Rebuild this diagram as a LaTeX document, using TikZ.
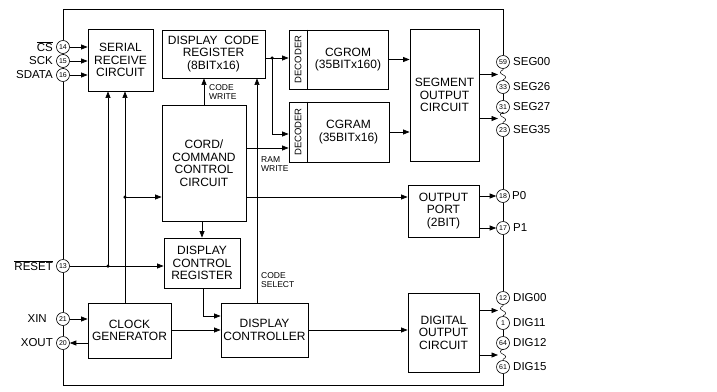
\documentclass[tikz,border=0pt]{standalone}
\usepackage{fontspec}
\setmainfont{Liberation Sans}
\usetikzlibrary{arrows.meta,calc}
\begin{document}
\begin{tikzpicture}[x=1pt,y=-1pt,
 box/.style={draw,line width=0.9pt,align=center,inner sep=0pt,font=\fontsize{12}{12.5}\selectfont},
 btext/.style={align=center,inner sep=0pt,font=\fontsize{12}{12.5}\selectfont},
 dec/.style={rotate=90,inner sep=0pt,font=\fontsize{9.5}{10}\selectfont},
 pin/.style={draw,circle,fill=white,minimum size=13pt,inner sep=0pt,line width=0.6pt,font=\fontsize{7}{7}\selectfont},
 frame/.style={line width=0.9pt},
 conn/.style={line width=0.7pt},
 arr/.style={conn,-{Triangle[length=6.5pt,width=5pt]}},
 jdot/.style={circle,fill,inner sep=0pt,minimum size=3.5pt},
 lbl/.style={font=\fontsize{11.5}{12}\selectfont,inner sep=0pt},
 sm/.style={font=\fontsize{8.5}{9}\selectfont,inner sep=0pt,align=left},
 squig/.style={line width=0.5pt},
]
\useasboundingbox (0,0) rectangle (717,391);

% ---------- blocks ----------
\node[box,minimum width=65pt,minimum height=62pt] (ser) at (120.5,60) {SERIAL\\RECEIVE\\CIRCUIT};
\node[box,minimum width=103pt,minimum height=48pt] (dcr) at (213.5,54) {DISPLAY\ \ CODE\\REGISTER\\(8BITx16)};
\node[box,minimum width=99pt,minimum height=59pt] (cgrom) at (338.5,59.5) {};
\draw[line width=0.9pt] ([xshift=19pt]cgrom.north west) -- ([xshift=19pt]cgrom.south west);
\node[dec] (decA) at ($(cgrom.west)+(9.5,0)$) {DECODER};
\node[btext] (cgromt) at ($(cgrom.center)+(9.5,0)$) {CGROM\\(35BITx160)};
\node[box,minimum width=100pt,minimum height=60pt] (cgram) at (339,132) {};
\draw[line width=0.9pt] ([xshift=19pt]cgram.north west) -- ([xshift=19pt]cgram.south west);
\node[dec] (decB) at ($(cgram.west)+(9.5,0)$) {DECODER};
\node[btext] (cgramt) at ($(cgram.center)+(9.5,0)$) {CGRAM\\(35BITx16)};
\node[box,minimum width=69pt,minimum height=132pt] (seg) at (444.5,95) {SEGMENT\\OUTPUT\\CIRCUIT};
\node[box,minimum width=84pt,minimum height=116pt] (cord) at (204,163) {CORD/\\COMMAND\\CONTROL\\CIRCUIT};
\node[box,minimum width=71pt,minimum height=52pt] (port) at (443.5,211) {OUTPUT\\PORT\\(2BIT)};
\node[box,minimum width=76pt,minimum height=50pt] (dreg) at (202,263) {DISPLAY\\CONTROL\\REGISTER};
\node[box,minimum width=83pt,minimum height=55pt] (clk) at (129.5,330.5) {CLOCK\\GENERATOR};
\node[box,minimum width=87pt,minimum height=54pt] (dctl) at (264.5,330) {DISPLAY\\CONTROLLER};
\node[box,minimum width=71pt,minimum height=79pt] (dig) at (443.5,332.5) {DIGITAL\\OUTPUT\\CIRCUIT};

% ---------- pins ----------
\node[pin] (p14) at (63,47) {14};
\node[pin] (p15) at (63,61) {15};
\node[pin] (p16) at (63,75) {16};
\node[pin] (p13) at (63,266) {13};
\node[pin] (p21) at (63,319) {21};
\node[pin] (p20) at (63,343) {20};
\node[pin] (p59) at (503,62) {59};
\node[pin] (p33) at (503,87) {33};
\node[pin] (p31) at (503,107) {31};
\node[pin] (p23) at (503,130) {23};
\node[pin] (p18) at (503,196) {18};
\node[pin] (p17) at (503,228) {17};
\node[pin] (p12) at (503,298) {12};
\node[pin] (p1) at (503,323) {1};
\node[pin] (p64) at (503,343) {64};
\node[pin] (p61) at (503,367) {61};

% ---------- frame ----------
\coordinate (tl) at (63,9);
\coordinate (tr) at (503,9);
\coordinate (bl) at (63,385);
\coordinate (br) at (503,385);
\draw[frame] (p14.north) -- (tl) -- (tr) -- (p59.north);
\draw[frame] (p14.south) -- (p15.north);
\draw[frame] (p15.south) -- (p16.north);
\draw[frame] (p16.south) -- (p13.north);
\draw[frame] (p13.south) -- (p21.north);
\draw[frame] (p21.south) -- (p20.north);
\draw[frame] (p20.south) -- (bl) -- (br) -- (p61.south);
\draw[frame] (p33.south) -- (p31.north);
\draw[frame] (p23.south) -- (p18.north);
\draw[frame] (p18.south) -- (p17.north);
\draw[frame] (p17.south) -- (p12.north);
\draw[frame] (p1.south) -- (p64.north);
% squiggles
\draw[squig] (p59.south) -- ++(0,1) .. controls +(-3.5,1.5) and +(-3.5,-1.5) .. ++(0,5) .. controls +(3.5,1.5) and +(3.5,-1.5) .. ++(0,5) -- (p33.north);
\draw[squig] (p23.north) -- ++(0,-1) .. controls +(3.5,-1.5) and +(3.5,1.5) .. ++(0,-5) .. controls +(-3.5,-1.5) and +(-3.5,1.5) .. ++(0,-5) -- (p31.south);
\draw[squig] (p12.south) -- ++(0,1) .. controls +(-3.5,1.5) and +(-3.5,-1.5) .. ++(0,5) .. controls +(3.5,1.5) and +(3.5,-1.5) .. ++(0,5) -- (p1.north);
\draw[squig] (p61.north) -- ++(0,-1) .. controls +(3.5,-1.5) and +(3.5,1.5) .. ++(0,-5) .. controls +(-3.5,-1.5) and +(-3.5,1.5) .. ++(0,-5) -- (p64.south);

% ---------- pin labels ----------
\node[lbl,anchor=east] (lcs) at (53,47) {$\overline{\mbox{CS}}$};
\node[lbl,anchor=east] (lsck) at (53,61) {SCK};
\node[lbl,anchor=east] (lsd) at (53,75) {SDATA};
\node[lbl,anchor=east] (lrst) at (53,266) {$\overline{\mbox{RESET}}$};
\node[lbl,anchor=east] (lxin) at (47,319) {XIN};
\node[lbl,anchor=east] (lxout) at (53,343) {XOUT};
\node[lbl,anchor=west] (ls00) at (513,62) {SEG00};
\node[lbl,anchor=west] (ls26) at (513,87) {SEG26};
\node[lbl,anchor=west] (ls27) at (513,107) {SEG27};
\node[lbl,anchor=west] (ls35) at (513,130) {SEG35};
\node[lbl,anchor=west] (lp0) at (512,196) {P0};
\node[lbl,anchor=west] (lp1) at (513,228) {P1};
\node[lbl,anchor=west] (ld00) at (513,298) {DIG00};
\node[lbl,anchor=west] (ld11) at (513,323) {DIG11};
\node[lbl,anchor=west] (ld12) at (513,343) {DIG12};
\node[lbl,anchor=west] (ld15) at (513,367) {DIG15};

% ---------- junction coordinates ----------
\coordinate (j1) at (272,58);
\coordinate (j2) at (272,134);
\coordinate (rw) at (246,148);
\coordinate (csx) at (257,200);
\coordinate (op) at (246,197);
\coordinate (rd) at (108,266);
\coordinate (ck) at (125,197);
\coordinate (dd) at (203,316);
\coordinate (sq1) at (498,74.5);
\coordinate (sq2) at (498,118.5);
\coordinate (sq3) at (498,310.5);
\coordinate (sq4) at (498,355);

% ---------- connectors ----------
\draw[arr] (p14.east) -- (ser.west |- p14);
\draw[arr] (p15.east) -- (ser.west |- p15);
\draw[arr] (p16.east) -- (ser.west |- p16);
\draw[arr] (dcr.east |- j1) -- (cgrom.west |- j1);
\draw[arr] (j1) -- (j2) -- (cgram.west |- j2);
\node[jdot] (dj1) at (j1) {};
\draw[arr] (rw) -- (cgram.west |- rw);
\draw[arr] (cord.north) -- (dcr.south -| cord.north);
\draw[arr] (dctl.north -| csx) -- (dcr.south -| csx);
\draw[arr] (cgrom.east) -- (seg.west |- cgrom.east);
\draw[arr] (cgram.east) -- (seg.west |- cgram.east);
\draw[arr] (seg.east |- sq1) -- (sq1);
\draw[arr] (seg.east |- sq2) -- (sq2);
\draw[arr] (op) -- (port.west |- op);
\draw[arr] (port.east |- p18) -- (p18.west);
\draw[arr] (port.east |- p17) -- (p17.west);
\draw[arr] (cord.south -| dreg.north) -- (dreg.north);
\draw[arr] (p13.east) -- (dreg.west |- p13);
\node[jdot] (drd) at (rd) {};
\draw[arr] (rd) -- (ser.south -| rd);
\draw[arr] (clk.north -| ck) -- (ser.south -| ck);
\node[jdot] (dck) at (ck) {};
\draw[arr] (ck) -- (cord.west |- ck);
\draw[arr] (p21.east) -- (clk.west |- p21);
\draw[arr] (clk.west |- p20) -- (p20.east);
\draw[arr] (clk.east |- dctl.west) -- (dctl.west);
\draw[arr] (dreg.south -| dd) -- (dd) -- (dctl.west |- dd);
\draw[arr] (dctl.east) -- (dig.west |- dctl.east);
\draw[arr] (dig.east |- sq3) -- (sq3);
\draw[arr] (dig.east |- sq4) -- (sq4);

% ---------- small labels ----------
\node[sm,anchor=west] (lcw) at (209,92.5) {CODE\\WRITE};
\node[sm,anchor=west] (lrw) at (261,164.5) {RAM\\WRITE};
\node[sm,anchor=west] (lcsl) at (261,280) {CODE\\SELECT};
\end{tikzpicture}
\end{document}
